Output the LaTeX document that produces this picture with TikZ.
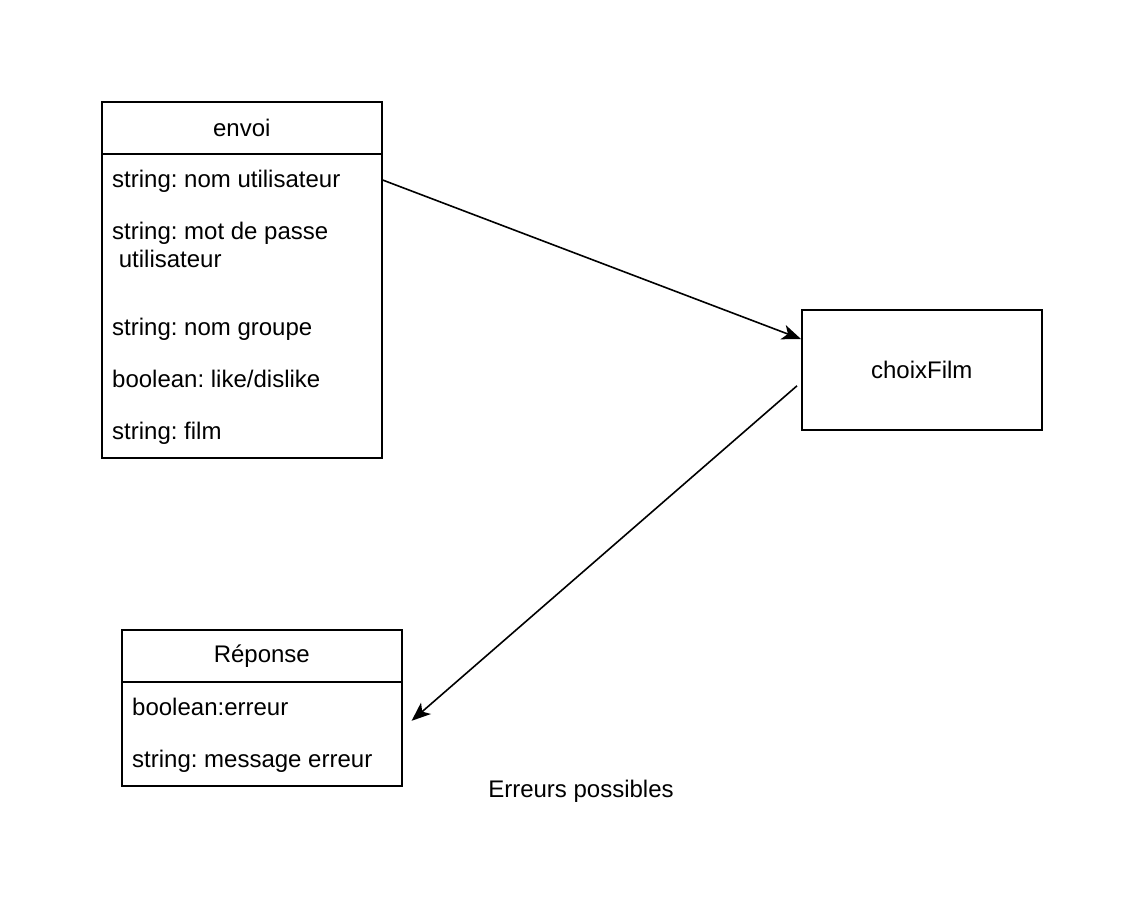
\documentclass[tikz,border=0pt]{standalone}
\usepackage{fontspec}
\setmainfont{Liberation Sans}
\usetikzlibrary{positioning, arrows.meta, calc}
\frenchspacing

\begin{document}
\begin{tikzpicture}[x=1pt, y=-1pt, font=\fontsize{24}{28}\selectfont,
box/.style={rectangle, draw=black, line width=1.6pt, inner sep=0pt, anchor=north west},
field/.style={anchor=base west, inner sep=0pt, align=left},
arrow/.style={-{Stealth[length=19pt, width=15pt, inset=5pt]}, line width=1.6pt}
]
\useasboundingbox (0,0) rectangle (1142,910);

% envoi
\node[box, minimum width=280pt, minimum height=52pt] (envoi) at (101,101) {envoi};
\node[box, minimum width=280pt, minimum height=304pt] (envoibody) at (101,153) {};
\node[field] (nom) at (112,187) {string: nom utilisateur};
\node[field] (mdp) at (112,239) {string: mot de passe};
\node[field] (mdp2) at (112,267) {\ utilisateur};
\node[field] (groupe) at (112,335) {string: nom groupe};
\node[field] (like) at (112,387) {boolean: like/dislike};
\node[field] (film) at (112,439) {string: film};

% choixFilm
\node[box, minimum width=240pt, minimum height=120pt] (choix) at (801,309) {};
\node (choixlabel) at (choix.center) {choixFilm};

% Reponse
\node[box, minimum width=280pt, minimum height=52pt] (reponse) at (121,629) {Réponse};
\node[box, minimum width=280pt, minimum height=104pt] (reponsebody) at (121,681) {};
\node[field] (erreur) at (132,715) {boolean:erreur};
\node[field] (message) at (132,767) {string: message erreur};

% Label
\node[anchor=base] (erreurs) at (581,797) {Erreurs possibles};

% Arrows
\coordinate (nomend) at (envoibody.east |- 0,180);
\coordinate (choixin) at ($(choix.north west)+(0,30)$);
\coordinate (choixout) at ($(choix.west)+(-4,16)$);
\coordinate (reponsein) at ($(reponsebody.east)+(9,-13)$);
\draw[arrow] (nomend) -- (choixin);
\draw[arrow] (choixout) -- (reponsein);

\end{tikzpicture}
\end{document}
